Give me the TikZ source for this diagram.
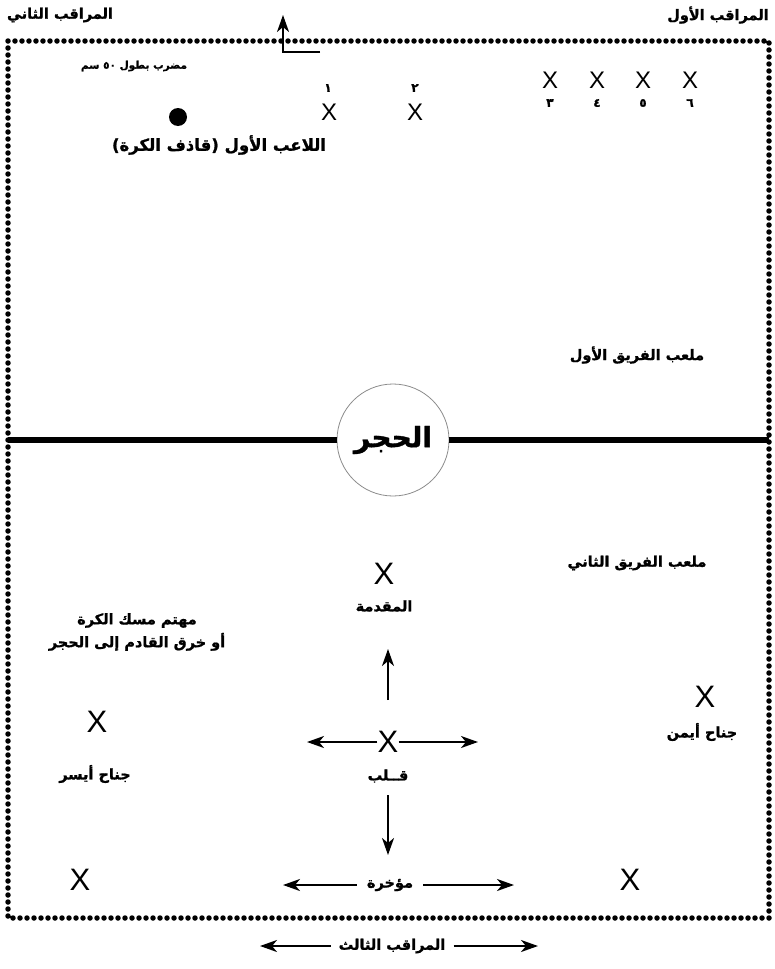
\documentclass[tikz,border=0pt]{standalone}
\usepackage{fontspec}
\setmainfont{Liberation Sans}
\newfontfamily\arabicfont[Script=Arabic,BoldFeatures={FakeBold=1.2}]{DejaVu Sans}
\TeXXeTstate=1
\usetikzlibrary{positioning,arrows.meta}
\newcommand{\rtltext}[1]{\beginR #1\endR}
\tikzset{
  fieldline/.style={line width=5.5pt,line cap=round,dash pattern=on 0pt off 7pt},
  midline/.style={line width=6pt},
  player/.style={font=\fontsize{31}{31}\selectfont,inner sep=1pt},
  topplayer/.style={font=\fontsize{24}{24}\selectfont,inner sep=1pt},
  num/.style={font=\arabicfont\bfseries\fontsize{12}{12}\selectfont,inner sep=0pt},
  lbl/.style={font=\arabicfont\bfseries\fontsize{14.5}{23}\selectfont,inner sep=0pt,align=center},
  biglbl/.style={font=\arabicfont\bfseries\fontsize{16.5}{18}\selectfont,inner sep=0pt},
  smalllbl/.style={font=\arabicfont\bfseries\fontsize{10.5}{12}\selectfont,inner sep=0pt},
  ball/.style={circle,fill=black,minimum size=18pt,inner sep=0pt},
  stone/.style={circle,draw=black!45,line width=0.8pt,fill=white,minimum size=112pt,inner sep=0pt,
    font=\arabicfont\bfseries\fontsize{28}{28}\selectfont},
  arr/.style={-{Stealth[length=17pt,width=12pt,inset=5pt]},line width=2pt},
}
\begin{document}
\begin{tikzpicture}[x=1pt,y=-1pt]
  \useasboundingbox (0,0) rectangle (775,969);
  % pitch
  \coordinate (nw) at (8,41);
  \coordinate (se) at (769,918);
  \draw[fieldline] (nw) rectangle (se);
  \coordinate (midL) at (8,440);
  \coordinate (midR) at (769,440);
  \node[stone] (hajar) at (393,440) {\rtltext{الحجر}};
  \draw[midline] (midL) -- (hajar);
  \draw[midline] (hajar) -- (midR);

  % observers
  \node[lbl] (obs2) at (60,15) {\rtltext{المراقب الثاني}};
  \node[lbl] (obs1) at (718,15) {\rtltext{المراقب الأول}};
  \node[lbl] (obs3) at (392,946) {\rtltext{المراقب الثالث}};
  \coordinate (obs3L) at (260,946);
  \coordinate (obs3R) at (538,946);
  \draw[arr] ([xshift=-8pt]obs3.west) -- (obs3L);
  \draw[arr] ([xshift=8pt]obs3.east) -- (obs3R);

  % batting team
  \coordinate (batE) at (320,52);
  \coordinate (batC) at (283,52);
  \coordinate (batT) at (283,15);
  \draw[arr] (batE) -- (batC) -- (batT);
  \node[smalllbl] (bat) at (134,66) {\rtltext{مضرب بطول \beginL٥٠\endL{} سم}};
  \node[ball] (ball) at (178,117) {};
  \node[biglbl] (thrower) at (219,145) {\rtltext{اللاعب الأول (قاذف الكرة)}};
  \node[topplayer] (p1) at (329,112) {X};
  \node[num] (n1) at (328,88) {١};
  \node[topplayer] (p2) at (415,112) {X};
  \node[num] (n2) at (415,88) {٢};
  \foreach \i/\x/\d in {3/550/٣,4/597/٤,5/643/٥,6/690/٦} {
    \node[topplayer] (p\i) at (\x,80) {X};
    \node[num] (n\i) at (\x,103) {\d};
  }
  \node[lbl] (team1) at (637,355) {\rtltext{ملعب الفريق الأول}};

  % fielding team
  \node[lbl] (team2) at (637,563) {\rtltext{ملعب الفريق الثاني}};
  \node[player] (fwd) at (384,574) {X};
  \node[lbl] (fwdl) at (384,606) {\rtltext{المقدمة}};
  \node[lbl] (note) at (137,632) {\rtltext{مهتم مسك الكرة}\\\rtltext{أو خرق القادم إلى الحجر}};
  \coordinate (upS) at (388,700);
  \coordinate (upE) at (388,649);
  \draw[arr] (upS) -- (upE);
  \node[player,inner sep=0pt] (ctr) at (388,742) {X};
  \coordinate (ctrL) at (307,742);
  \coordinate (ctrR) at (478,742);
  \draw[arr] (ctr) -- (ctrL);
  \draw[arr] (ctr) -- (ctrR);
  \node[lbl] (ctrl) at (388,776) {\rtltext{قــلب}};
  \coordinate (dnS) at (388,795);
  \coordinate (dnE) at (388,855);
  \draw[arr] (dnS) -- (dnE);
  \node[lbl] (back) at (390,885) {\rtltext{مؤخرة}};
  \coordinate (backL) at (283,885);
  \coordinate (backR) at (514,885);
  \draw[arr] ([xshift=-10pt]back.west) -- (backL);
  \draw[arr] ([xshift=10pt]back.east) -- (backR);
  \node[player] (lw) at (97,722) {X};
  \node[lbl] (lwl) at (95,774) {\rtltext{جناح أيسر}};
  \node[player] (rw) at (705,697) {X};
  \node[lbl] (rwl) at (702,732) {\rtltext{جناح أيمن}};
  \node[player] (bl) at (80,880) {X};
  \node[player] (br) at (630,880) {X};
\end{tikzpicture}
\end{document}
